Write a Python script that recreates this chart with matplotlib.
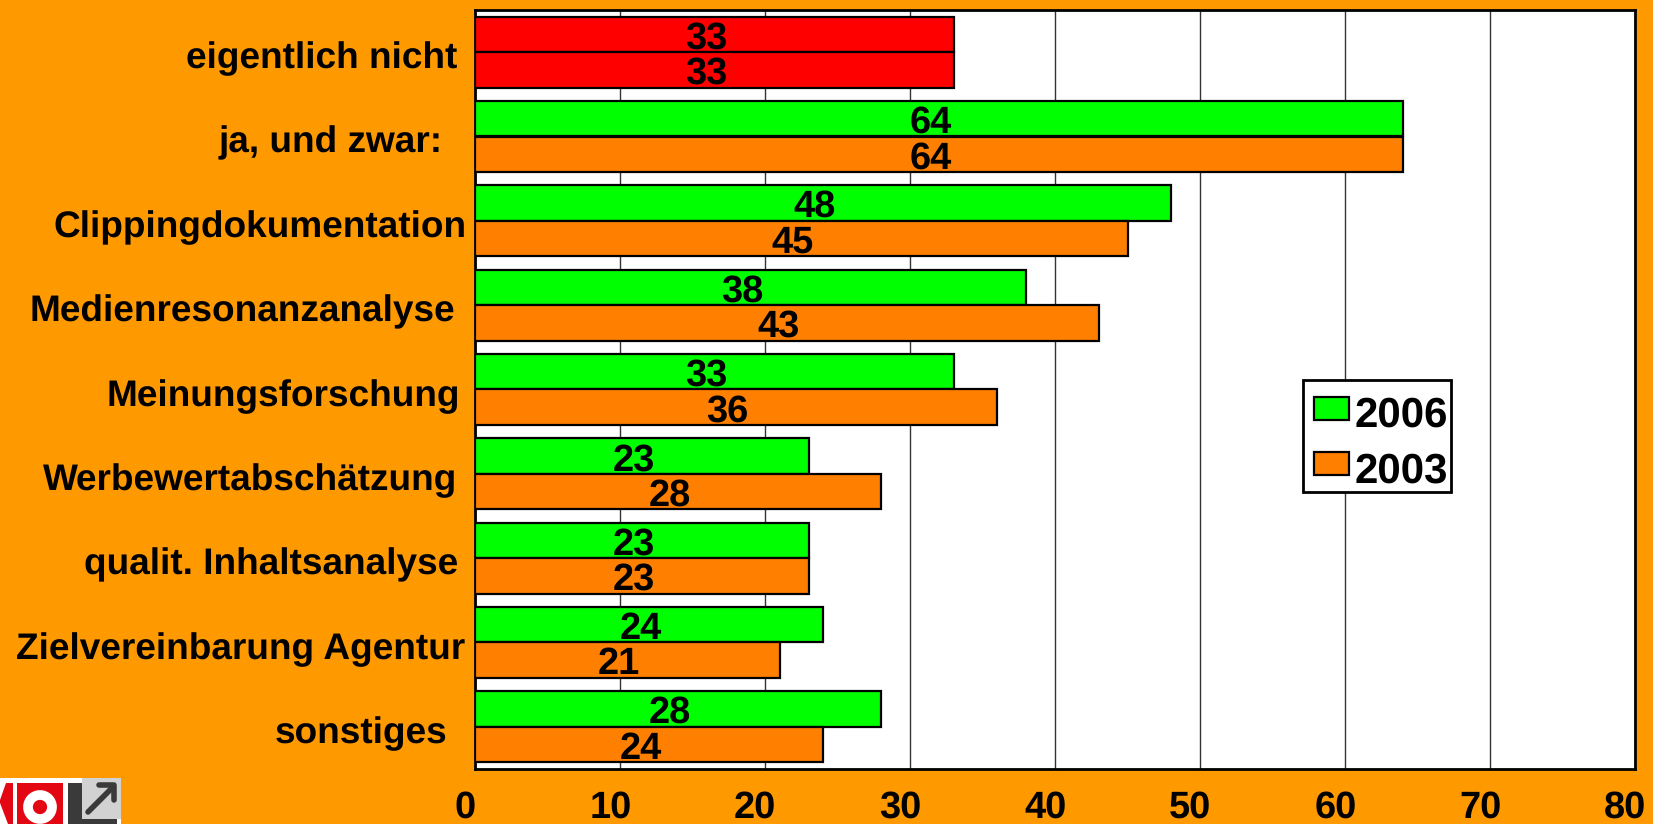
import numpy as np
import matplotlib
matplotlib.use('Agg')
import matplotlib.pyplot as plt
from matplotlib.patches import Rectangle, Circle, Polygon
from matplotlib.transforms import ScaledTranslation

plt.rcParams['font.family'] = ['Liberation Sans', 'DejaVu Sans']
plt.rcParams['font.weight'] = 'bold'
plt.rcParams['text.hinting'] = 'none'
plt.rcParams['text.hinting_factor'] = 1

kategorien = ['eigentlich nicht', 'ja, und zwar:', 'Clippingdokumentation',
              'Medienresonanzanalyse', 'Meinungsforschung', 'Werbewertabschätzung',
              'qualit. Inhaltsanalyse', 'Zielvereinbarung Agentur', 'sonstiges']
werte_2006 = [33, 64, 48, 38, 33, 23, 23, 24, 28]
werte_2003 = [33, 64, 45, 43, 36, 28, 23, 21, 24]
x_ticks = [0, 10, 20, 30, 40, 50, 60, 70, 80]
jahre = ['2006', '2003']

# Abstand der Beschriftung zur Achse, in Pixel
label_pad = [18, 32, 8, 20, 15, 18, 17, 10, 28]

HINTERGRUND = '#FF9900'
GRUEN = '#00FF00'
ORANGE = '#FF8000'
ROT = '#FF0000'
B, H = 1653, 824

fig = plt.figure(figsize=(B / 100, H / 100), dpi=100, facecolor=HINTERGRUND)
ax = fig.add_axes([475 / B, 1 - 769 / H, 1160 / B, 759 / H])

y = np.arange(len(kategorien))
hoehe = 0.42
farben_2006 = [ROT] + [GRUEN] * (len(y) - 1)
farben_2003 = [ROT] + [ORANGE] * (len(y) - 1)

ax.barh(y - hoehe / 2, werte_2006, hoehe, color=farben_2006, edgecolor='black', linewidth=1.6, zorder=3)
ax.barh(y + hoehe / 2, werte_2003, hoehe, color=farben_2003, edgecolor='black', linewidth=1.6, zorder=3)

# Werte in den Balken, leicht nach links versetzt wie im Original
versatz = ScaledTranslation(-6 / 72, -3 / 72, fig.dpi_scale_trans)
for i in y:
    ax.text(werte_2006[i] / 2, i - hoehe / 2, str(werte_2006[i]), ha='center', va='center',
            fontsize=27, color='black', zorder=4, transform=ax.transData + versatz)
    ax.text(werte_2003[i] / 2, i + hoehe / 2, str(werte_2003[i]), ha='center', va='center',
            fontsize=27, color='black', zorder=4, transform=ax.transData + versatz)

ax.set_xlim(0, 80)
ax.set_ylim(len(y) - 0.5, -0.5)
ax.set_facecolor('white')
ax.set_xticks(x_ticks)
ax.set_yticks(y)
ax.set_yticklabels(kategorien, fontsize=26.8, fontweight='bold')
ax.tick_params(axis='both', length=0)
ax.tick_params(axis='x', labelsize=27, pad=15)
ax.grid(axis='x', color='#333333', linewidth=1, zorder=0)
ax.set_axisbelow(True)

for tick, pad in zip(ax.yaxis.get_major_ticks(), label_pad):
    tick.set_pad(pad * 0.72)
for lab in ax.get_xticklabels():
    lab.set_transform(lab.get_transform() + ScaledTranslation(-7 / 72, 0, fig.dpi_scale_trans))
for lab in ax.get_yticklabels():
    lab.set_transform(lab.get_transform() + ScaledTranslation(0, -2 / 72, fig.dpi_scale_trans))

for s in ax.spines.values():
    s.set_linewidth(2)
    s.set_color('black')

# Ebene in Pixelkoordinaten fuer Legende und Logo
oben = fig.add_axes([0, 0, 1, 1], facecolor='none')
oben.set_xlim(0, B)
oben.set_ylim(H, 0)
oben.axis('off')

# Legende von Hand, die Abstaende im Original sind links und rechts ungleich
oben.add_patch(Rectangle((1303, 380), 148, 112, facecolor='white', edgecolor='black', linewidth=2))
for jahr, farbe, y_oben, y_text in zip(jahre, [GRUEN, ORANGE], [397, 452], [411, 467]):
    oben.add_patch(Rectangle((1314, y_oben), 35, 23, facecolor=farbe, edgecolor='black', linewidth=1.6))
    oben.text(1355, y_text, jahr, fontsize=30, ha='left', va='center_baseline', color='black')

# Logo unten links
oben.add_patch(Rectangle((0, 778), 121, 46, facecolor='white', edgecolor='none'))
oben.add_patch(Rectangle((0, 783), 13, 41, facecolor='#E30613', edgecolor='none'))
oben.add_patch(Polygon([(0, 803), (8, 824), (0, 824)], facecolor='white', edgecolor='none'))
oben.add_patch(Polygon([(0, 800), (6, 783), (0, 783)], facecolor='white', edgecolor='none'))
oben.add_patch(Rectangle((17, 783), 46, 41, facecolor='#E30613', edgecolor='none'))
oben.add_patch(Circle((40, 807), 12, facecolor='none', edgecolor='white', linewidth=7))
oben.add_patch(Rectangle((68, 783), 49, 41, facecolor='#3A3A3A', edgecolor='none'))
oben.add_patch(Rectangle((82, 778), 39, 41, facecolor='#D2D2D2', edgecolor='none'))
oben.plot([88, 113], [812, 787], color='#3A3A3A', linewidth=4, solid_capstyle='round')
oben.plot([99, 114, 114], [785, 785, 800], color='#3A3A3A', linewidth=4, solid_capstyle='round')

fig.savefig('out.png', dpi=100, facecolor=HINTERGRUND)
